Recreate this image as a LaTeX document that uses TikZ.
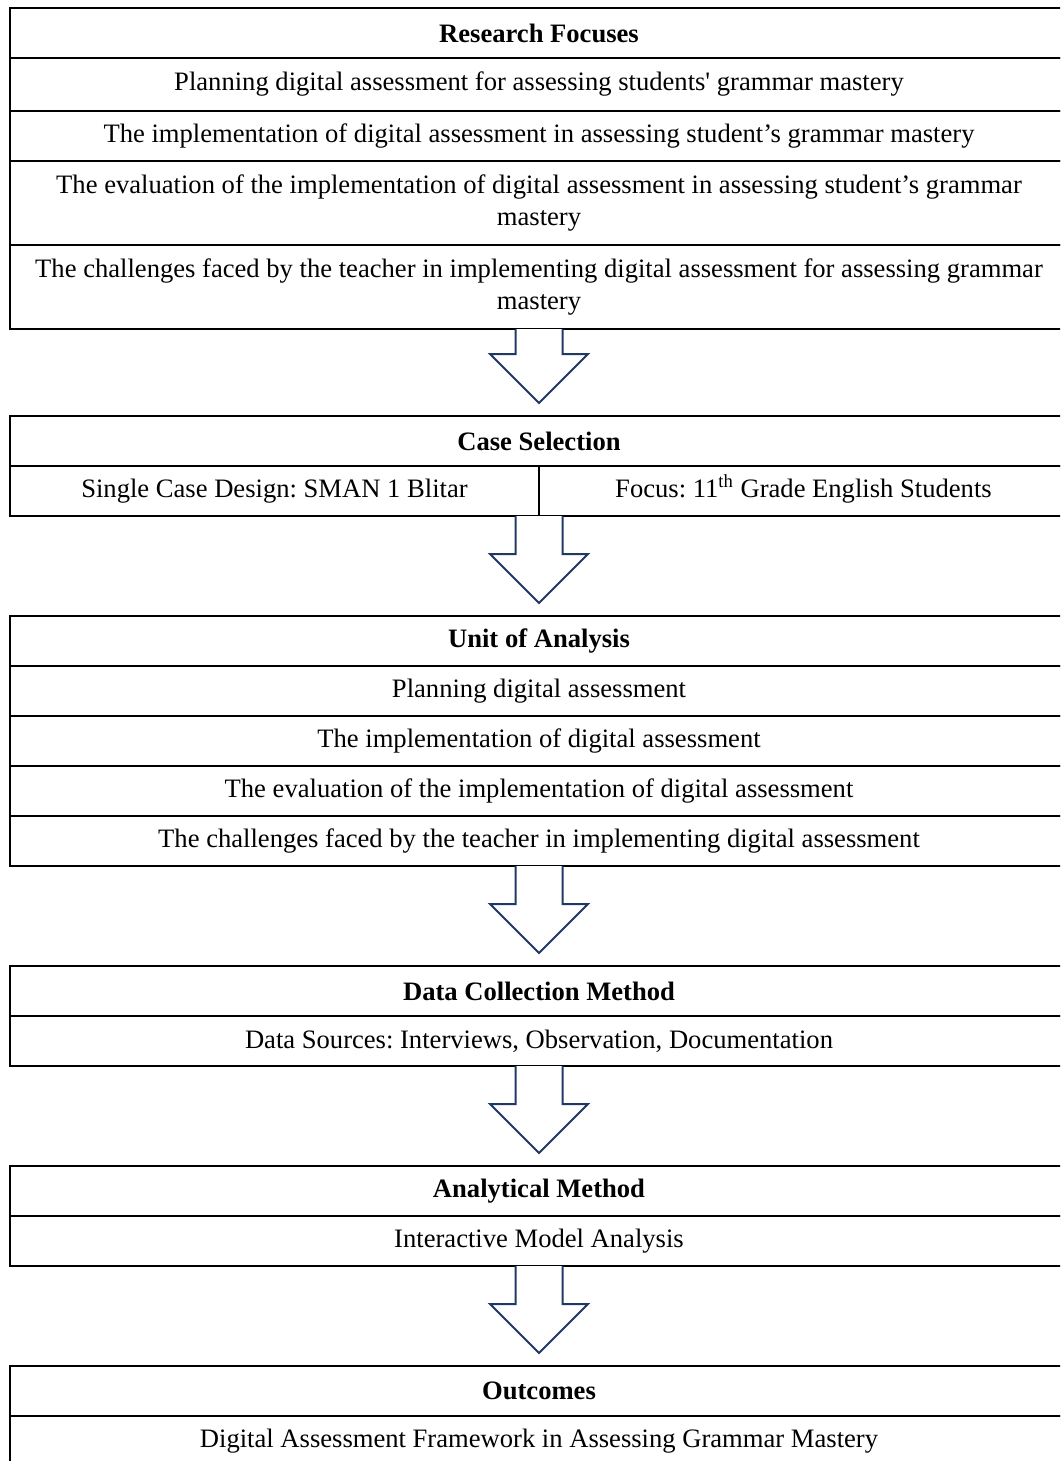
\documentclass[tikz,border=0pt]{standalone}
\usepackage{fontspec}
\setmainfont{Liberation Serif}
\usetikzlibrary{positioning,calc}
\definecolor{arrowblue}{RGB}{31,56,100}
\tikzset{
  tabrow/.style = {draw=black, line width=1pt, outer sep=0pt, inner sep=0pt,
    minimum width=529pt, minimum height=25pt, align=center,
    font=\fontsize{13.3pt}{16.2pt}\selectfont\frenchspacing},% one line of a table
  tabtall/.style = {tabrow, minimum height=42pt},% two lines
  tabhalf/.style = {tabrow, minimum width=264.5pt, text height=9.5pt, text depth=3pt},% half of a row
  tabhead/.style = {tabrow, font=\fontsize{13.3pt}{16.2pt}\selectfont\bfseries},% title row
  flowarrow/.style = {draw=arrowblue, line width=1pt, fill=white}
}
% big hollow arrow from the bottom of one table to the next one
\newcommand{\flowarrow}[2]{%
  \draw[flowarrow] let \p1 = (#1), \p2 = ($(#2)+(0,-13)$) in
    (\x1-11.75pt,\y1) -- (\x1-11.75pt,\y2+24.5pt) -- (\x1-24.5pt,\y2+24.5pt)
    -- (\x1,\y2) -- (\x1+24.5pt,\y2+24.5pt) -- (\x1+11.75pt,\y2+24.5pt)
    -- (\x1+11.75pt,\y1);}

\begin{document}
\begin{tikzpicture}[x=0.5pt,y=-0.5pt]
        \useasboundingbox (0,0) rectangle (1060,1461);
        \clip (0,0) rectangle (1060,1461);

        \node [tabhead] (rf0) at (539,33) {Research Focuses};
        \node [tabrow, minimum height=26.5pt, below=0pt of rf0] (rf1) {Planning digital assessment for assessing students\textquotesingle{} grammar mastery};
        \node [tabrow, below=0pt of rf1] (rf2) {The implementation of digital assessment in assessing student’s grammar mastery};
        \node [tabtall, below=0pt of rf2] (rf3) {The evaluation of the implementation of digital assessment in assessing student’s grammar\\mastery};
        \node [tabtall, below=0pt of rf3] (rf4) {The challenges faced by the teacher in implementing digital assessment for assessing grammar\\mastery};

        \node [tabhead, below=43.5pt of rf4] (cs0) {Case Selection};
        \node [tabhalf, below right=0pt of cs0.south west] (cs1a) {Single Case Design: SMAN 1 Blitar};
        \node [tabhalf, right=0pt of cs1a] (cs1b) {Focus: 11\textsuperscript{th} Grade English Students};

        \node [tabhead, below=75pt of cs0] (ua0) {Unit of Analysis};
        \node [tabrow, below=0pt of ua0] (ua1) {Planning digital assessment};
        \node [tabrow, below=0pt of ua1] (ua2) {The implementation of digital assessment};
        \node [tabrow, below=0pt of ua2] (ua3) {The evaluation of the implementation of digital assessment};
        \node [tabrow, below=0pt of ua3] (ua4) {The challenges faced by the teacher in implementing digital assessment};

        \node [tabhead, below=50pt of ua4] (dc0) {Data Collection Method};
        \node [tabrow, below=0pt of dc0] (dc1) {Data Sources: Interviews, Observation, Documentation};

        \node [tabhead, below=50pt of dc1] (am0) {Analytical Method};
        \node [tabrow, below=0pt of am0] (am1) {Interactive Model Analysis};

        \node [tabhead, below=50pt of am1] (oc0) {Outcomes};
        \node [tabrow, below=0pt of oc0] (oc1) {Digital Assessment Framework in Assessing Grammar Mastery};

        \flowarrow{rf4.south}{cs0.north}
        \flowarrow{cs0 |- cs1a.south}{ua0.north}
        \flowarrow{ua4.south}{dc0.north}
        \flowarrow{dc1.south}{am0.north}
        \flowarrow{am1.south}{oc0.north}

        \end{tikzpicture}
\end{document}
